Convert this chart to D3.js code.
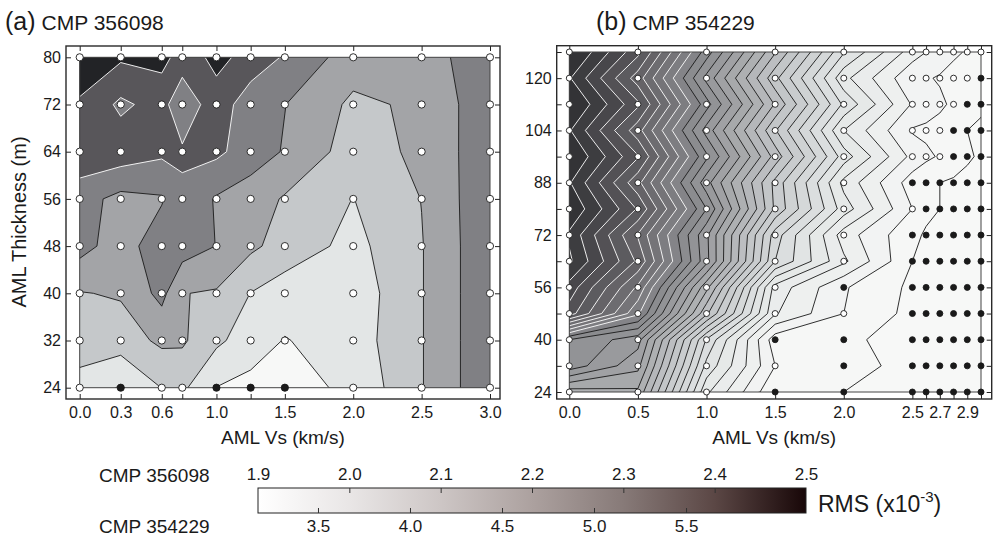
<!DOCTYPE html>
<html><head><meta charset="utf-8">
<script src="https://cdn.jsdelivr.net/npm/d3@7"></script>
<style>
body{margin:0;background:#fff}
svg{display:block}
text{font-family:"Liberation Sans",Arial,Helvetica,sans-serif;fill:#1a1a1a}
</style></head>
<body><svg id="c" width="996" height="541"></svg>
<script>
// ---------------- DATA ----------------
// Panel (a) CMP 356098
const aVs = [0, 0.3, 0.6, 0.75, 1.0, 1.25, 1.5, 2.0, 2.5, 3.0];
const aThick = [80, 72, 64, 56, 48, 40, 32, 24];
const aRms = [
  [2.56, 2.515, 2.53, 2.46, 2.52, 2.475, 2.387, 2.25, 2.26, 2.355],
  [2.488, 2.38, 2.44, 2.318, 2.47, 2.33, 2.302, 2.18, 2.217, 2.37],
  [2.476, 2.46, 2.42, 2.416, 2.421, 2.35, 2.292, 2.153, 2.221, 2.367],
  [2.34, 2.27, 2.29, 2.38, 2.29, 2.25, 2.19, 2.098, 2.202, 2.38],
  [2.337, 2.249, 2.365, 2.35, 2.298, 2.22, 2.16, 2.069, 2.195, 2.38],
  [2.195, 2.21, 2.33, 2.203, 2.19, 2.098, 2.05, 2.04, 2.195, 2.38],
  [2.14, 2.15, 2.22, 2.215, 2.12, 2.05, 1.995, 2.05, 2.195, 2.38],
  [2.07, 1.99, 2.102, 2.12, 1.998, 1.97, 1.96, 2.022, 2.195, 2.38]
];
const aFilled = [
  [0,0,0,0,0,0,0,0,0,0],
  [0,0,0,0,0,0,0,0,0,0],
  [0,0,0,0,0,0,0,0,0,0],
  [0,0,0,0,0,0,0,0,0,0],
  [0,0,0,0,0,0,0,0,0,0],
  [0,0,0,0,0,0,0,0,0,0],
  [0,0,0,0,0,0,0,0,0,0],
  [0,1,0,0,1,1,1,0,0,0]
];
const aLevels = [2.0, 2.1, 2.2, 2.3, 2.4, 2.5];
const aXTicks = [0, 0.3, 0.6, 0.75, 1.0, 1.25, 1.5, 2.0, 2.5, 3.0];
const aXLabels = ["0.0", "0.3", "0.6", "", "1.0", "", "1.5", "2.0", "2.5", "3.0"];
const aYTicks = [24, 32, 40, 48, 56, 64, 72, 80];
const aYLabels = ["24", "32", "40", "48", "56", "64", "72", "80"];

// Panel (b) CMP 354229
const bVs = [0, 0.5, 1.0, 1.5, 2.0, 2.5, 2.6, 2.7, 2.8, 2.9, 3.0];
const bThick = [128, 120, 112, 104, 96, 88, 80, 72, 64, 56, 48, 40, 32, 24];
const bRms = [
  [6.13, 5.73, 5.05, 4.41, 3.81, 3.45, 3.40, 3.36, 3.32, 3.29, 3.27],
  [6.01, 5.55, 4.87, 4.23, 3.63, 3.32, 3.31, 3.29, 3.26, 3.24, 3.22],
  [6.12, 5.72, 5.04, 4.39, 3.78, 3.39, 3.35, 3.32, 3.28, 3.23, 3.21],
  [6.01, 5.54, 4.86, 4.21, 3.60, 3.29, 3.28, 3.26, 3.22, 3.20, 3.19],
  [6.11, 5.71, 5.02, 4.36, 3.75, 3.37, 3.32, 3.29, 3.24, 3.21, 3.19],
  [6.01, 5.53, 4.84, 4.17, 3.57, 3.25, 3.22, 3.20, 3.19, 3.18, 3.17],
  [6.09, 5.69, 5.00, 4.18, 3.65, 3.30, 3.22, 3.20, 3.18, 3.17, 3.16],
  [5.98, 5.49, 4.82, 3.95, 3.45, 3.22, 3.19, 3.18, 3.17, 3.16, 3.15],
  [6.02, 5.58, 4.83, 3.90, 3.52, 3.20, 3.18, 3.17, 3.16, 3.15, 3.15],
  [5.86, 5.38, 4.53, 3.56, 3.31, 3.18, 3.17, 3.16, 3.15, 3.15, 3.14],
  [5.75, 5.22, 4.32, 3.51, 3.30, 3.17, 3.16, 3.15, 3.15, 3.14, 3.14],
  [5.00, 4.84, 3.89, 3.24, 3.22, 3.16, 3.15, 3.15, 3.14, 3.14, 3.14],
  [4.96, 4.73, 3.77, 3.30, 3.26, 3.15, 3.15, 3.14, 3.14, 3.14, 3.14],
  [4.55, 4.58, 3.62, 3.21, 3.20, 3.15, 3.14, 3.14, 3.14, 3.14, 3.13]
];
const bFilled = [
  [0,0,0,0,0,0,0,0,0,0,0],
  [0,0,0,0,0,0,0,0,0,0,1],
  [0,0,0,0,0,0,0,0,0,1,1],
  [0,0,0,0,0,0,0,0,1,1,1],
  [0,0,0,0,0,0,0,0,1,1,1],
  [0,0,0,0,0,1,1,1,1,1,1],
  [0,0,0,0,0,0,1,1,1,1,1],
  [0,0,0,0,0,1,1,1,1,1,1],
  [0,0,0,0,0,1,1,1,1,1,1],
  [0,0,0,0,1,1,1,1,1,1,1],
  [0,0,0,0,0,1,1,1,1,1,1],
  [0,0,0,1,1,1,1,1,1,1,1],
  [0,0,0,0,1,1,1,1,1,1,1],
  [0,0,0,1,1,1,1,1,1,1,1]
];
const bLevels = [3.2, 3.3, 3.4, 3.5, 3.6, 3.7, 3.8, 3.9, 4.0, 4.1, 4.2, 4.3, 4.4, 4.5, 4.6,
                 4.7, 4.8, 4.9, 5.0, 5.1, 5.2, 5.3, 5.4, 5.5, 5.6, 5.7, 5.8, 5.9, 6.0];
const bXTicks = [0, 0.5, 1.0, 1.5, 2.0, 2.5, 2.6, 2.7, 2.8, 2.9, 3.0];
const bXLabels = ["0.0", "0.5", "1.0", "1.5", "2.0", "2.5", "", "2.7", "", "2.9", ""];
const bYTicks = [24, 32, 40, 48, 56, 64, 72, 80, 88, 96, 104, 112, 120, 128];
const bYLabels = ["24", "", "40", "", "56", "", "72", "", "88", "", "104", "", "120", ""];

// Colour bar
const cbTopTicks = [1.9, 2.0, 2.1, 2.2, 2.3, 2.4, 2.5];
const cbTopLabels = ["1.9", "2.0", "2.1", "2.2", "2.3", "2.4", "2.5"];
const cbBotTicks = [3.5, 4.0, 4.5, 5.0, 5.5];
const cbBotLabels = ["3.5", "4.0", "4.5", "5.0", "5.5"];
const cbTopRange = [1.9, 2.5];
const cbBotRange = [3.174, 6.152];

// ---------------- STYLE ----------------
const panelStops = ["#f7f8f7", "#e3e6e6", "#c5c8ca", "#a3a4a7", "#808084", "#58565a", "#222326"];
const barStops = ["#ffffff", "#e9e6e6", "#cdc6c5", "#aca19f", "#877a78", "#5b4745", "#180708"];
const tStops = panelStops.map((_, i) => i / (panelStops.length - 1));
const panelColor = d3.scaleLinear().domain(tStops).range(panelStops).clamp(true);
const FONT = '"Liberation Sans",Arial,sans-serif';

const svg = d3.select("#c");
const defs = svg.append("defs");

function drawPanel(P) {
  const g = svg.append("g");
  const x = d3.scaleLinear().domain([0, 3]).range(P.xr);
  const y = d3.scaleLinear().domain(P.ydom).range(P.yr);
  const nx = P.vs.length, ny = P.th.length;
  const ix = d3.scaleLinear().domain(d3.range(nx)).range(P.vs.map(x));
  const iy = d3.scaleLinear().domain(d3.range(ny)).range(P.th.map(y));
  const proj = d3.geoTransform({point(px, py) { this.stream.point(ix(px - 0.5), iy(py - 0.5)); }});
  const path = d3.geoPath(proj);
  const contours = d3.contours().size([nx, ny]).thresholds(P.levels)(P.rms.flat());
  const tOf = v => (v - P.cmin) / (P.cmax - P.cmin);

  const dx0 = x(P.vs[0]), dx1 = x(P.vs[nx - 1]);
  const dyT = y(d3.max(P.th)), dyB = y(d3.min(P.th));
  defs.append("clipPath").attr("id", P.id + "clip").append("rect")
    .attr("x", dx0).attr("y", dyT).attr("width", dx1 - dx0).attr("height", dyB - dyT);
  const cg = g.append("g").attr("clip-path", `url(#${P.id}clip)`);
  cg.append("rect").attr("x", dx0).attr("y", dyT).attr("width", dx1 - dx0).attr("height", dyB - dyT)
    .attr("fill", panelColor(0));
  cg.selectAll("path.fill").data(contours).join("path").attr("class", "fill")
    .attr("d", path).attr("fill", d => panelColor(tOf(d.value)));
  cg.selectAll("path.line").data(contours).join("path").attr("class", "line")
    .attr("d", path).attr("fill", "none")
    .attr("stroke", d => d.value >= P.whiteFrom ? "#ffffff" : "#1a1a1a")
    .attr("stroke-width", 0.9).attr("stroke-linejoin", "round");
  g.append("rect").attr("x", dx0).attr("y", dyT).attr("width", dx1 - dx0).attr("height", dyB - dyT)
    .attr("fill", "none").attr("stroke", "#444").attr("stroke-width", 1);

  // frame + axes
  const F = P.frame;
  const fmt = (labels, ticks) => v => labels[ticks.indexOf(v)];
  const styleAxis = sel => {
    sel.select(".domain").remove();
    sel.selectAll(".tick line").attr("stroke", "#222").attr("stroke-width", 1);
    sel.selectAll(".tick text").attr("font-size", P.tickFont).attr("fill", "#1a1a1a").attr("font-family", FONT);
  };
  g.append("g").attr("transform", `translate(${F.x0},0)`)
    .call(d3.axisLeft(y).tickValues(P.yTicks).tickSize(-5).tickPadding(5).tickFormat(fmt(P.yLabels, P.yTicks))).call(styleAxis);
  g.append("g").attr("transform", `translate(${F.x1},0)`)
    .call(d3.axisRight(y).tickValues(P.yTicks).tickSize(-5).tickFormat("")).call(styleAxis);
  g.append("g").attr("transform", `translate(0,${F.y1})`)
    .call(d3.axisBottom(x).tickValues(P.xTicks).tickSize(-5).tickPadding(8).tickFormat(fmt(P.xLabels, P.xTicks))).call(styleAxis);
  g.append("g").attr("transform", `translate(0,${F.y0})`)
    .call(d3.axisTop(x).tickValues(P.xTicks).tickSize(-5).tickFormat("")).call(styleAxis);
  g.append("rect").attr("x", F.x0).attr("y", F.y0).attr("width", F.x1 - F.x0).attr("height", F.y1 - F.y0)
    .attr("fill", "none").attr("stroke", "#2a2a2a").attr("stroke-width", 1.4);

  // model points
  const pts = [];
  P.th.forEach((t, j) => P.vs.forEach((v, i) => pts.push({v, t, f: P.filled[j][i]})));
  g.selectAll("circle.pt").data(pts).join("circle").attr("class", "pt")
    .attr("cx", d => x(d.v)).attr("cy", d => y(d.t)).attr("r", P.r)
    .attr("fill", d => d.f ? "#1a1a1a" : "#ffffff")
    .attr("stroke", "#1a1a1a").attr("stroke-width", 0.9);

  // titles
  const tt = g.append("text").attr("x", P.titleX).attr("y", 30);
  tt.append("tspan").attr("font-size", 25).text(P.letter);
  tt.append("tspan").attr("font-size", 21).attr("dx", 6).text(P.title);
  g.append("text").attr("x", (F.x0 + F.x1) / 2).attr("y", 444).attr("text-anchor", "middle")
    .attr("font-size", 19).text("AML Vs (km/s)");
}

drawPanel({
  id: "a", vs: aVs, th: aThick, rms: aRms, filled: aFilled, levels: aLevels,
  cmin: 1.9, cmax: 2.5, whiteFrom: 2.35,
  xr: [79.7, 490], ydom: [24, 80], yr: [387.7, 57.3],
  frame: {x0: 66, x1: 500, y0: 46, y1: 399},
  xTicks: aXTicks, xLabels: aXLabels, yTicks: aYTicks, yLabels: aYLabels,
  r: 3.6, tickFont: 16, letter: "(a)", title: "CMP 356098", titleX: 5
});
drawPanel({
  id: "b", vs: bVs, th: bThick, rms: bRms, filled: bFilled, levels: bLevels,
  cmin: cbBotRange[0], cmax: cbBotRange[1], whiteFrom: 5.15,
  xr: [569.3, 981], ydom: [24, 128], yr: [392, 52],
  frame: {x0: 556.7, x1: 991.7, y0: 45.7, y1: 399},
  xTicks: bXTicks, xLabels: bXLabels, yTicks: bYTicks, yLabels: bYLabels,
  r: 3.0, tickFont: 16, letter: "(b)", title: "CMP 354229", titleX: 596
});

// y-axis title
svg.append("text").attr("transform", "translate(26,222) rotate(-90)").attr("text-anchor", "middle")
  .attr("font-size", 20).text("AML Thickness (m)");

// ---------------- COLOUR BAR ----------------
const cbX = [258, 806], cbY = [488, 513];
const grad = defs.append("linearGradient").attr("id", "cbg").attr("x1", "0%").attr("x2", "100%");
barStops.forEach((c, i) => grad.append("stop").attr("offset", (i / (barStops.length - 1) * 100) + "%").attr("stop-color", c));
const cb = svg.append("g");
cb.append("rect").attr("x", cbX[0]).attr("y", cbY[0]).attr("width", cbX[1] - cbX[0]).attr("height", cbY[1] - cbY[0])
  .attr("fill", "url(#cbg)").attr("stroke", "#222").attr("stroke-width", 1);
const cbTop = d3.scaleLinear().domain(cbTopRange).range(cbX);
const cbBot = d3.scaleLinear().domain(cbBotRange).range(cbX);
const topAx = cb.append("g").attr("transform", `translate(0,${cbY[0]})`)
  .call(d3.axisTop(cbTop).tickValues(cbTopTicks).tickSize(-5).tickPadding(8).tickFormat((v, i) => cbTopLabels[i]));
const botAx = cb.append("g").attr("transform", `translate(0,${cbY[1]})`)
  .call(d3.axisBottom(cbBot).tickValues(cbBotTicks).tickSize(-5).tickPadding(7).tickFormat((v, i) => cbBotLabels[i]));
[topAx, botAx].forEach(a => {
  a.select(".domain").remove();
  a.selectAll(".tick line").attr("stroke", "#333");
  a.selectAll(".tick text").attr("font-size", 17).attr("fill", "#1a1a1a").attr("font-family", FONT);
});
topAx.selectAll(".tick").filter(v => v === 1.9 || v === 2.5).select("line").remove();
svg.append("text").attr("x", 99).attr("y", 482).attr("font-size", 19).text("CMP 356098");
svg.append("text").attr("x", 99).attr("y", 533).attr("font-size", 19).text("CMP 354229");
const rms = svg.append("text").attr("x", 818).attr("y", 512).attr("font-size", 23);
rms.append("tspan").text("RMS (x10");
rms.append("tspan").attr("font-size", 15).attr("dy", -10).text("-3");
rms.append("tspan").attr("dy", 10).text(")");
</script>
</body></html>
